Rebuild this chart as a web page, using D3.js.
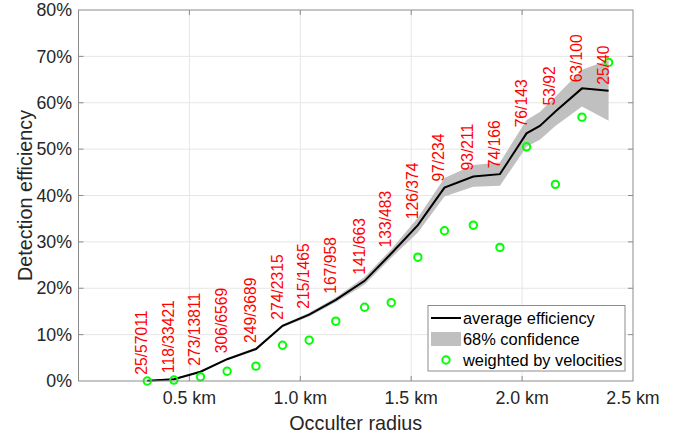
<!DOCTYPE html>
<html>
<head>
<meta charset="utf-8">
<script src="https://d3js.org/d3.v7.min.js"></script>
<style>
  body { margin: 0; background: #fff; }
  text { font-family: "Liberation Sans", Arial, sans-serif; }
</style>
</head>
<body>
<script>
// data

var radius = [0.31, 0.43, 0.55, 0.67, 0.80, 0.92, 1.04, 1.16, 1.29, 1.41, 1.53, 1.65, 1.78, 1.90, 2.02, 2.15, 2.27, 2.39];
var counts = ["25/57011", "118/33421", "273/13811", "306/6569", "249/3689", "274/2315", "215/1465", "167/958", "141/663",
              "133/483", "126/374", "97/234", "93/211", "74/166", "76/143", "53/92", "63/100", "25/40"];
var weighted = [0.0, 0.2, 0.9, 2.1, 3.2, 7.7, 8.8, 12.9, 15.9, 16.9, 26.7, 32.4, 33.6, 28.8, 50.5, 42.4, 56.9, 68.7];

// the average line has one extra vertex between 2.02 and 2.15 km
var lineRadius = [0.31, 0.43, 0.55, 0.67, 0.80, 0.92, 1.04, 1.16, 1.29, 1.41, 1.53, 1.65, 1.78, 1.90, 2.02, 2.08, 2.15, 2.27, 2.39];
var average    = [0.05, 0.4, 2.0, 4.7, 6.9, 11.9, 14.3, 17.5, 21.6, 27.5, 33.6, 41.7, 44.1, 44.6, 53.4, 55.0, 58.1, 63.1, 62.6];
var bandLow    = [0.0, 0.2, 1.8, 4.5, 6.6, 11.6, 13.9, 17.0, 20.8, 26.6, 32.0, 39.8, 41.9, 42.1, 50.5, 52.0, 55.0, 59.2, 56.1];
var bandHigh   = [0.15, 0.6, 2.2, 4.9, 7.2, 12.2, 14.7, 18.0, 22.4, 28.4, 35.2, 43.8, 46.6, 47.1, 56.3, 58.0, 61.3, 67.1, 69.2];

// label at each count, same order as radius
var countLabels = radius.map(function(r, i) {
    return {r: r, y: average[lineRadius.indexOf(r)], text: counts[i]};
});

var xTicks = [0.5, 1.0, 1.5, 2.0, 2.5];
var yTicks = [0, 10, 20, 30, 40, 50, 60, 70, 80];

var width = 691, height = 439;
var plot = {left: 78.5, right: 633, top: 10, bottom: 381};

var svg = d3.select("body").append("svg")
    .attr("width", width)
    .attr("height", height);

var x = d3.scaleLinear()
    .domain([0, 2.5])
    .range([plot.left, plot.right]);

var y = d3.scaleLinear()
    .domain([0, 80])
    .range([plot.bottom, plot.top]);

// grid

var grid = svg.append("g");
grid.selectAll(".vg").data(xTicks.slice(0, -1)).enter().append("line")
    .attr("x1", function(d) { return x(d); })
    .attr("x2", function(d) { return x(d); })
    .attr("y1", plot.top).attr("y2", plot.bottom)
    .attr("stroke", "#e6e6e6");
grid.selectAll(".hg").data(yTicks.slice(1, -1)).enter().append("line")
    .attr("y1", function(d) { return y(d); })
    .attr("y2", function(d) { return y(d); })
    .attr("x1", plot.left).attr("x2", plot.right)
    .attr("stroke", "#e6e6e6");

// confidence band and average line

var idx = d3.range(lineRadius.length);

var band = d3.area()
    .x(function(i) { return x(lineRadius[i]); })
    .y0(function(i) { return y(bandLow[i]); })
    .y1(function(i) { return y(bandHigh[i]); });

svg.append("path")
    .datum(idx)
    .attr("d", band)
    .attr("fill", "#c0c0c0");

var avgLine = d3.line()
    .x(function(i) { return x(lineRadius[i]); })
    .y(function(i) { return y(average[i]); });

svg.append("path")
    .datum(idx)
    .attr("d", avgLine)
    .attr("fill", "none")
    .attr("stroke", "#000")
    .attr("stroke-width", 2);

// weighted points

svg.selectAll(".pt").data(d3.range(radius.length)).enter().append("circle")
    .attr("cx", function(i) { return x(radius[i]); })
    .attr("cy", function(i) { return y(weighted[i]); })
    .attr("r", 3.7)
    .attr("fill", "none")
    .attr("stroke", "#00ff00")
    .attr("stroke-width", 2);

// count labels

svg.selectAll(".lbl").data(countLabels).enter().append("text")
    .attr("transform", function(d) { return "translate(" + x(d.r) + "," + (y(d.y) - 6) + ") rotate(-90)"; })
    .attr("fill", "#ff0000")
    .attr("font-size", "15.7px")
    .text(function(d) { return d.text; });

// axes box with inward ticks on all sides

var axis = svg.append("g");
axis.append("rect")
    .attr("x", plot.left).attr("y", plot.top)
    .attr("width", plot.right - plot.left)
    .attr("height", plot.bottom - plot.top)
    .attr("fill", "none")
    .attr("stroke", "#8c8c8c");

xTicks.slice(0, -1).forEach(function(t) {
    axis.append("line").attr("x1", x(t)).attr("x2", x(t))
        .attr("y1", plot.bottom).attr("y2", plot.bottom - 5).attr("stroke", "#8c8c8c");
    axis.append("line").attr("x1", x(t)).attr("x2", x(t))
        .attr("y1", plot.top).attr("y2", plot.top + 5).attr("stroke", "#8c8c8c");
});
yTicks.slice(1, -1).forEach(function(t) {
    axis.append("line").attr("y1", y(t)).attr("y2", y(t))
        .attr("x1", plot.left).attr("x2", plot.left + 5).attr("stroke", "#8c8c8c");
    axis.append("line").attr("y1", y(t)).attr("y2", y(t))
        .attr("x1", plot.right).attr("x2", plot.right - 5).attr("stroke", "#8c8c8c");
});

axis.selectAll(".xt").data(xTicks).enter().append("text")
    .attr("x", function(d) { return x(d); })
    .attr("y", 404)
    .attr("text-anchor", "middle")
    .attr("font-size", "17.8px")
    .attr("fill", "#262626")
    .text(function(d) { return d3.format(".1f")(d) + " km"; });

axis.selectAll(".yt").data(yTicks).enter().append("text")
    .attr("x", 72)
    .attr("y", function(d) { return y(d); })
    .attr("dy", "0.35em")
    .attr("text-anchor", "end")
    .attr("font-size", "17.8px")
    .attr("fill", "#262626")
    .text(function(d) { return d + "%"; });

svg.append("text")
    .attr("x", (plot.left + plot.right) / 2)
    .attr("y", 430)
    .attr("text-anchor", "middle")
    .attr("font-size", "19.8px")
    .attr("fill", "#262626")
    .text("Occulter radius");

svg.append("text")
    .attr("transform", "translate(32," + (plot.top + plot.bottom) / 2 + ") rotate(-90)")
    .attr("text-anchor", "middle")
    .attr("font-size", "19.8px")
    .attr("fill", "#262626")
    .text("Detection efficiency");

// legend

var legend = svg.append("g");
legend.append("rect")
    .attr("x", 428).attr("y", 305.5)
    .attr("width", 197).attr("height", 65.5)
    .attr("fill", "#fff")
    .attr("stroke", "#8c8c8c");

legend.append("line")
    .attr("x1", 431).attr("x2", 461)
    .attr("y1", 318).attr("y2", 318)
    .attr("stroke", "#000").attr("stroke-width", 2);
legend.append("rect")
    .attr("x", 431).attr("y", 332)
    .attr("width", 30).attr("height", 14)
    .attr("fill", "#c0c0c0");
legend.append("circle")
    .attr("cx", 446).attr("cy", 360).attr("r", 3.7)
    .attr("fill", "none").attr("stroke", "#00ff00").attr("stroke-width", 2);

var legendText = ["average efficiency", "68% confidence", "weighted by velocities"];
legend.selectAll(".lt").data(legendText).enter().append("text")
    .attr("x", 463)
    .attr("y", function(d, i) { return 318 + i * 21; })
    .attr("dy", "0.35em")
    .attr("font-size", "16.4px")
    .attr("fill", "#000")
    .text(function(d) { return d; });
</script>
</body>
</html>
